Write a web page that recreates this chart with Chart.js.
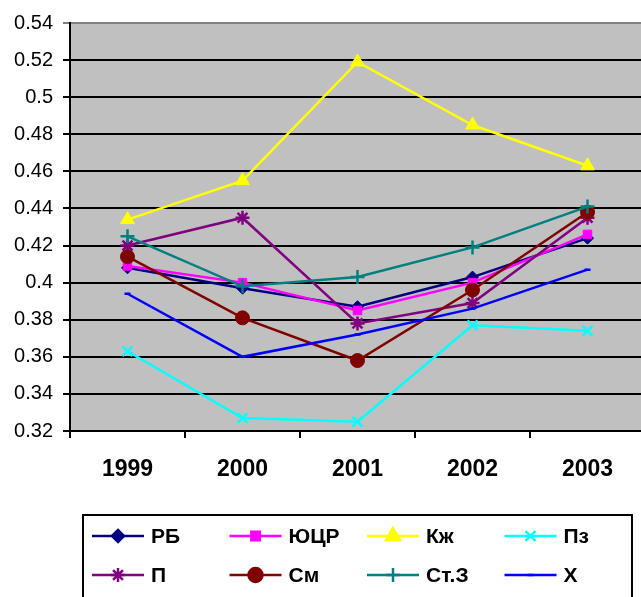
<!DOCTYPE html>
<html>
<head>
<meta charset="utf-8">
<script src="https://cdn.jsdelivr.net/npm/chart.js@4"></script>
<style>
  html, body { margin: 0; padding: 0; background: #fff; overflow: hidden; }
  canvas { display: block; }
</style>
</head>
<body>
<canvas id="lineChart" width="645" height="597"></canvas>
<script>
/* Data */
const years = ["1999", "2000", "2001", "2002", "2003"];
const seriesNames = ["РБ", "ЮЦР", "Кж", "Пз", "П", "См", "Ст.З", "Х"];

const rb = [0.408, 0.397, 0.387, 0.403, 0.424];
const yucr = [0.409, 0.400, 0.385, 0.400, 0.426];
const kzh = [0.434, 0.455, 0.519, 0.485, 0.463];
const pz = [0.363, 0.327, 0.325, 0.377, 0.374];
const p = [0.420, 0.435, 0.378, 0.389, 0.435];
const sm = [0.414, 0.381, 0.358, 0.396, 0.438];
const st3 = [0.425, 0.398, 0.403, 0.419, 0.441];
const kh = [0.394, 0.360, 0.372, 0.386, 0.407];

const yTicks = { min: 0.32, max: 0.54, step: 0.02 };

/* Styles */
const colors = ["#000080", "#FF00FF", "#FFFF00", "#00FFFF", "#800080", "#800000", "#008080", "#0000FF"];
const markers = ["rectRot", "rect", "triangle", "crossRot", "star", "circle", "cross", "line"];
const markerSize = [6, 6, 8, 7, 7, 7, 7, 3];
const allValues = [rb, yucr, kzh, pz, p, sm, st3, kh];
const strokeOnly = ["crossRot", "cross", "star", "line"];

const datasets = allValues.map((vals, i) => ({
  label: seriesNames[i],
  data: vals,
  borderColor: colors[i],
  backgroundColor: colors[i],
  borderWidth: 2.5,
  pointStyle: markers[i],
  pointRadius: markerSize[i],
  pointBorderWidth: strokeOnly.includes(markers[i]) ? 2.5 : 1,
  pointBorderColor: colors[i],
  pointBackgroundColor: colors[i],
  tension: 0,
  order: allValues.length - i,
}));

/* plot background */
const plotBg = {
  id: "plotBg",
  beforeDraw(chart) {
    const { ctx, chartArea: a } = chart;
    ctx.save();
    ctx.fillStyle = "#C0C0C0";
    ctx.fillRect(a.left, a.top, a.right - a.left, a.bottom - a.top);
    ctx.restore();
  },
};

/* legend in a box, 4 columns */
const boxLegend = {
  id: "boxLegend",
  afterDraw(chart) {
    const { ctx, chartArea: a } = chart;
    const top = a.bottom + 84;
    const left = 83;
    ctx.save();
    ctx.strokeStyle = "#000";
    ctx.lineWidth = 2;
    ctx.strokeRect(left, top, 549, 120);
    ctx.font = "bold 21px 'Liberation Sans', Arial, sans-serif";
    ctx.textBaseline = "middle";
    chart.data.datasets.forEach((ds, i) => {
      const col = i % 4;
      const row = Math.floor(i / 4);
      const x0 = 92 + col * 137.5;
      const y0 = top + 21 + row * 39;
      ctx.strokeStyle = ds.borderColor;
      ctx.lineWidth = 2.5;
      ctx.beginPath();
      ctx.moveTo(x0, y0);
      ctx.lineTo(x0 + 52, y0);
      ctx.stroke();
      ctx.fillStyle = ds.pointBackgroundColor;
      ctx.strokeStyle = ds.pointBorderColor;
      Chart.helpers.drawPoint(ctx, {
        pointStyle: ds.pointStyle,
        radius: ds.pointRadius,
        borderWidth: ds.pointBorderWidth,
        rotation: 0,
      }, x0 + 26, y0);
      ctx.fillStyle = "#000";
      ctx.fillText(ds.label, x0 + 59, y0 + 1);
    });
    ctx.restore();
  },
};

const chart = new Chart(document.getElementById("lineChart"), {
  type: "line",
  data: { labels: years, datasets: datasets },
  options: {
    responsive: false,
    animation: false,
    layout: { autoPadding: false, padding: { top: 23, left: 0, right: 0, bottom: 0 } },
    scales: {
      x: {
        offset: true,
        grid: {
          offset: true,
          drawOnChartArea: false,
          tickLength: 7,
          color: "#000",
          lineWidth: 2,
        },
        border: { color: "#000", width: 2 },
        ticks: {
          color: "#000",
          padding: 18,
          font: { family: "'Liberation Sans', Arial, sans-serif", size: 23, weight: "bold" },
        },
        afterFit(scale) {
          scale.height = 166;
        },
      },
      y: {
        min: yTicks.min,
        max: yTicks.max,
        grid: {
          color: (ctx) => (ctx.tick && Math.abs(ctx.tick.value - yTicks.max) < 1e-9 ? "#808080" : "#000"),
          lineWidth: 2,
          tickLength: 7,
        },
        border: { color: "#000", width: 2 },
        ticks: {
          stepSize: yTicks.step,
          color: "#000",
          padding: 10,
          font: { family: "'Liberation Sans', Arial, sans-serif", size: 20 },
          callback: (v) => String(Number(v.toFixed(2))),
        },
        afterFit(scale) { scale.width = 70; },
      },
    },
    plugins: {
      legend: { display: false },
      tooltip: { enabled: false },
    },
  },
  plugins: [plotBg, boxLegend],
});
</script>
</body>
</html>
